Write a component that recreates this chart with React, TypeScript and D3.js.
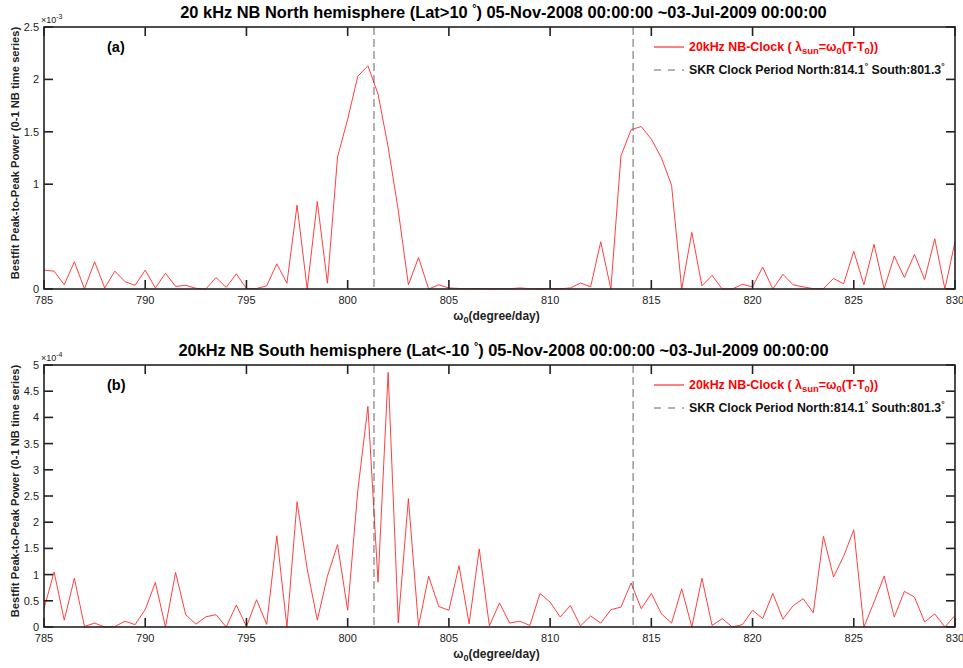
import * as d3 from 'd3';
import React from 'react';

// omega grid (degree/day), sampled every 0.5 from 785 to 830
const omega = d3.range(785, 830.25, 0.5);

// north hemisphere power, units of 1e-3
const northPower = [
  0.18, 0.17, 0.04, 0.26, 0, 0.26, 0.01, 0.17, 0.07, 0.035,
  0.18, 0.01, 0.15, 0.025, 0.035, 0.007, 0, 0.11, 0.015, 0.145,
  0.005, 0.005, 0.03, 0.24, 0.055, 0.80, 0, 0.835, 0.055, 1.26,
  1.62, 2.03, 2.13, 1.86, 1.355, 0.75, 0.04, 0.30, 0, 0.04,
  0.01, 0.005, 0.003, 0.005, 0.002, 0.003, 0.002, 0.01, 0.003, 0.002,
  0.003, 0.002, 0.01, 0.057, 0.02, 0.45, 0, 1.27, 1.52, 1.55,
  1.43, 1.25, 0.99, 0, 0.54, 0.03, 0.13, 0, 0, 0.045,
  0.02, 0.21, 0, 0.14, 0.04, 0.02, 0.003, 0.003, 0.10, 0.05,
  0.36, 0.04, 0.425, 0, 0.315, 0.11, 0.33, 0.09, 0.48, 0,
  0.45,
];

// south hemisphere power, units of 1e-4
const southPower = [
  0.35, 1.05, 0.13, 0.93, 0.01, 0.075, 0, 0.01, 0.11, 0.045,
  0.335, 0.85, 0, 1.04, 0.235, 0.055, 0.195, 0.235, 0, 0.42,
  0.01, 0.52, 0.05, 1.74, 0, 2.39, 1.11, 0.13, 0.97, 1.57,
  0.32, 2.6, 4.21, 0.855, 4.86, 0.08, 2.45, 0.02, 0.97, 0.39,
  0.32, 1.17, 0.06, 1.49, 0.02, 0.46, 0.075, 0.11, 0.03, 0.64,
  0.475, 0.19, 0.41, 0.02, 0.21, 0.075, 0.33, 0.38, 0.84, 0.35,
  0.64, 0.25, 0.075, 0.73, 0, 0.93, 0.03, 0.16, 0, 0.045,
  0.32, 0.16, 0.64, 0.15, 0.405, 0.54, 0.27, 1.73, 0.955, 1.35,
  1.855, 0, 0.475, 0.97, 0.19, 0.68, 0.57, 0.095, 0.25, 0,
  0.22,
];

const skrPeriods = [801.3, 814.1];
const xTicks = [785, 790, 795, 800, 805, 810, 815, 820, 825, 830];
const northTicks = [0, 1, 1.5, 2, 2.5];
const southTicks = [0, 0.5, 1, 1.5, 2, 2.5, 3, 3.5, 4, 4.5, 5];

const FONT = '"Liberation Sans", Arial, Helvetica, sans-serif';
const W = 963;
const H = 668;
const margin = { left: 44, right: 8 };

type PanelProps = {
  top: number;
  bottom: number;
  values: number[];
  yMax: number;
  yTicks: number[];
  exponent: string;
  tag: string;
  title: React.ReactNode;
};

function Panel({ top, bottom, values, yMax, yTicks, exponent, tag, title }: PanelProps) {
  const x = d3.scaleLinear().domain([785, 830]).range([margin.left, W - margin.right]);
  const y = d3.scaleLinear().domain([0, yMax]).range([bottom, top]);
  const line = d3
    .line<number>()
    .x((_, i) => x(omega[i]))
    .y((d) => y(d));
  const x0 = x.range()[0];
  const x1 = x.range()[1];
  const midX = (x0 + x1) / 2;
  const tickLen = 9;
  const legX = 654;
  const legY = top + 20;

  return (
    <g>
      <text x={midX + 4} y={top - 9} textAnchor="middle" fontFamily={FONT} fontWeight="bold" fontSize={16.4}>
        {title}
      </text>

      <path d={line(values) ?? ''} fill="none" stroke="#ff2a2a" strokeWidth={0.9} />

      {skrPeriods.map((p) => (
        <line key={p} x1={x(p)} x2={x(p)} y1={top} y2={bottom} stroke="#555" strokeWidth={0.9} strokeDasharray="8,4" />
      ))}

      {/* box */}
      <rect x={x0} y={top} width={x1 - x0} height={bottom - top} fill="none" stroke="#222" strokeWidth={1.6} />

      {xTicks.map((t) => (
        <g key={t}>
          <line x1={x(t)} x2={x(t)} y1={bottom} y2={bottom - tickLen} stroke="#222" strokeWidth={1.6} />
          <line x1={x(t)} x2={x(t)} y1={top} y2={top + tickLen} stroke="#222" strokeWidth={1.6} />
          <text x={x(t)} y={bottom + 15} textAnchor="middle" fontFamily={FONT} fontSize={11} fill="#222">
            {t}
          </text>
        </g>
      ))}

      {yTicks.map((t) => (
        <g key={t}>
          <line x1={x0} x2={x0 + tickLen} y1={y(t)} y2={y(t)} stroke="#222" strokeWidth={1.6} />
          <line x1={x1} x2={x1 - tickLen} y1={y(t)} y2={y(t)} stroke="#222" strokeWidth={1.6} />
          <text x={x0 - 5} y={y(t) + 4} textAnchor="end" fontFamily={FONT} fontSize={11} fill="#222">
            {t}
          </text>
        </g>
      ))}

      <text x={x0 - 3} y={top - 4} fontFamily={FONT} fontSize={9} fill="#222">
        ×10<tspan dy={-4} fontSize={7}>{exponent}</tspan>
      </text>

      <text x={107} y={top + 25} fontFamily={FONT} fontWeight="bold" fontSize={14.5}>
        {tag}
      </text>

      <text
        transform={`translate(19,${(top + bottom) / 2 - 5}) rotate(-90)`}
        textAnchor="middle"
        fontFamily={FONT}
        fontWeight="bold"
        fontSize={11.2}
        fill="#222"
      >
        Bestfit Peak-to-Peak Power (0-1 NB time series)
      </text>

      <text x={midX - 3} y={bottom + 31} textAnchor="middle" fontFamily={FONT} fontWeight="bold" fontSize={12} fill="#222">
        ω<tspan dy={3} fontSize={9}>0</tspan>
        <tspan dy={-3}>(degree/day)</tspan>
      </text>

      {/* legend */}
      <line x1={legX} x2={legX + 30} y1={legY} y2={legY} stroke="#ff0000" strokeWidth={1} />
      <text x={legX + 35} y={legY + 4} fontFamily={FONT} fontWeight="bold" fontSize={12.4} fill="#ff0000">
        20kHz NB-Clock ( λ<tspan dy={3} fontSize={9.5}>sun</tspan>
        <tspan dy={-3}>=ω</tspan>
        <tspan dy={3} fontSize={9.5}>0</tspan>
        <tspan dy={-3}>(T-T</tspan>
        <tspan dy={3} fontSize={9.5}>0</tspan>
        <tspan dy={-3}>))</tspan>
      </text>
      <line x1={legX} x2={legX + 30} y1={legY + 23} y2={legY + 23} stroke="#555" strokeWidth={0.9} strokeDasharray="7,7" />
      <text x={legX + 35} y={legY + 27} fontFamily={FONT} fontWeight="bold" fontSize={12.3} fill="#111">
        SKR Clock Period North:814.1<tspan dy={-5} fontSize={8.5}>°</tspan>
        <tspan dy={5}> South:801.3</tspan>
        <tspan dy={-5} fontSize={8.5}>°</tspan>
      </text>
    </g>
  );
}

export default function App() {
  return (
    <svg
      width={W}
      height={H}
      viewBox={`0 0 ${W} ${H}`}
      style={{ position: 'absolute', left: 0, top: 0, background: '#fff' }}
    >
      <Panel
        top={27}
        bottom={289}
        values={northPower}
        yMax={2.5}
        yTicks={northTicks}
        exponent="-3"
        tag="(a)"
        title={
          <>
            20 kHz NB North hemisphere (Lat&gt;10 <tspan dy={-6} fontSize={10.5}>°</tspan>
            <tspan dy={6}>) 05-Nov-2008 00:00:00 ~03-Jul-2009 00:00:00</tspan>
          </>
        }
      />
      <Panel
        top={365}
        bottom={627}
        values={southPower}
        yMax={5}
        yTicks={southTicks}
        exponent="-4"
        tag="(b)"
        title={
          <>
            20kHz NB South hemisphere (Lat&lt;-10 <tspan dy={-6} fontSize={10.5}>°</tspan>
            <tspan dy={6}>) 05-Nov-2008 00:00:00 ~03-Jul-2009 00:00:00</tspan>
          </>
        }
      />
    </svg>
  );
}
